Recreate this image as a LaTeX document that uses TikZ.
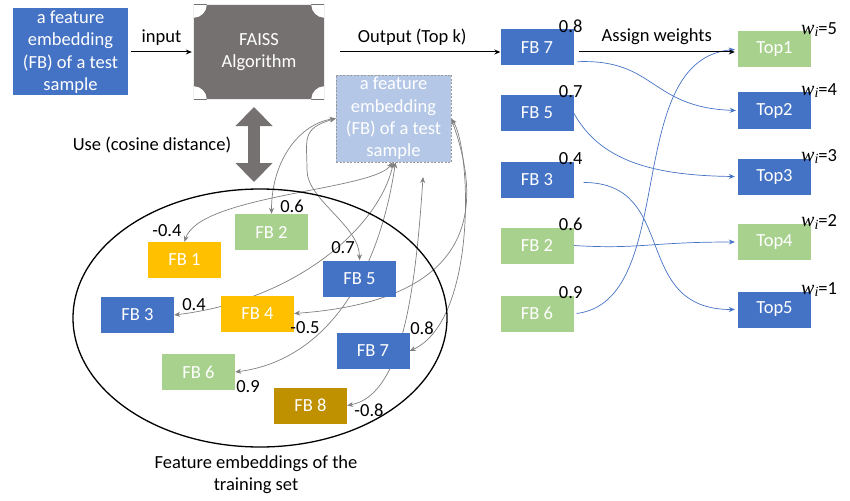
\documentclass[tikz,border=0pt]{standalone}
\usepackage{fontspec}
\setmainfont{Carlito}
\newfontfamily\wfont{Liberation Serif}
\usetikzlibrary{arrows.meta,shapes.geometric,backgrounds}
\definecolor{fbblue}{HTML}{4472C4}
\definecolor{fbgreen}{HTML}{A9D18E}
\definecolor{fborange}{HTML}{FFC000}
\definecolor{fbgold}{HTML}{BF9000}
\definecolor{faissgray}{HTML}{767171}
\definecolor{querylight}{HTML}{B4C7E7}
\definecolor{linkgray}{HTML}{7F7F7F}
\newcommand{\wlabel}[1]{{\wfont\itshape\fontsize{20}{20}\selectfont w}\raisebox{-0.3ex}{\wfont\itshape\fontsize{14}{14}\selectfont i}=#1}
\begin{document}
\begin{tikzpicture}[x=1pt, y=-1pt, font=\fontsize{18.5}{22.3}\selectfont,
        >={Stealth[length=6pt,width=5pt]},
        fb/.style={minimum width=73, minimum height=36, inner sep=0pt, text=white},
        bigbox/.style={minimum width=115, minimum height=87, inner sep=0pt, text=white, align=center},
        score/.style={anchor=base, inner sep=0pt},
        simlink/.style={<->, linkgray, line width=0.7pt},
        ranklink/.style={->, fbblue, line width=0.7pt}]
        \useasboundingbox (0,0) rectangle (850,500);

        % query side
        \node[bigbox, fill=fbblue] (tsample) at (70.5,52) {a feature\\embedding\\(FB) of a test\\sample};
        \node[bigbox, minimum width=130, minimum height=94] (faiss) at (259,52) {FAISS\\Algorithm};
        \node[bigbox, fill=querylight, draw=linkgray!80, dash pattern=on 2pt off 1.5pt, thin] (query) at (393.5,118.5) {a feature\\embedding\\(FB) of a test\\sample};

        \draw[->, line width=1pt] ([xshift=3]tsample.east) -- ([xshift=-2]faiss.west) node[midway, above, yshift=3] (inputlbl) {input};

        % training set
        \node[draw, ellipse, line width=1.3pt, minimum width=374, minimum height=258] (trainset) at (260,318) {};
        \node[align=center] (trainlbl) at (256,475) {Feature embeddings of the\\training set};
        \foreach \k/\x/\y/\c in {1/184.5/260/fborange, 2/271.5/232/fbgreen, 3/137.5/315/fbblue, 4/257.5/313.5/fborange,
                5/359.5/278.5/fbblue, 6/198.5/372/fbgreen, 7/373/351/fbblue, 8/310.5/405.5/fbgold} {
            \node[fb, fill=\c] (tr\k) at (\x,\y) {FB \k};
        }
        \foreach \k/\x/\y/\v in {1/167/236/-0.4, 2/292/212/0.6, 3/194/310/0.4, 4/305/333/-0.5,
                5/343/253/0.7, 6/248/392/0.9, 7/422/334/0.8, 8/369/416/-0.8} {
            \node[score] (trv\k) at (\x,\y) {\v};
        }

        \coordinate (usetop) at (254,107);
        \coordinate (usebot) at (254,182);
        \draw[faissgray, line width=12pt, {Triangle[width=36pt,length=19pt]}-{Triangle[width=36pt,length=19pt]}] (usetop) -- (usebot);
        \node (uselbl) at (152,145) {Use (cosine distance)};

        % ranked output
        \foreach \k/\y/\c/\v in {7/47.5/fbblue/0.8, 5/113/fbblue/0.7, 3/179.5/fbblue/0.4, 2/245.5/fbgreen/0.6, 6/313.5/fbgreen/0.9} {
            \node[fb, fill=\c] (res\k) at (537,\y) {FB \k};
            \node[score] (resv\k) at ([xshift=-3,yshift=-3]res\k.north east) {\v};
        }
        \foreach \k/\y/\c/\w in {1/49.5/fbgreen/5, 2/110.5/fbblue/4, 3/176.5/fbblue/3, 4/242/fbgreen/2, 5/309.5/fbblue/1} {
            \node[fb, fill=\c] (top\k) at (774.5,\y) {Top\k};
            \node[score, anchor=base east] (weight\k) at ([xshift=26,yshift=-3]top\k.north east) {\wlabel{\w}};
        }

        \draw[->, line width=1pt] ([xshift=16]faiss.east) -- (faiss.east -| res7.west) node[pos=0.45, above, yshift=3] (outlbl) {Output (Top k)};
        \draw[->, line width=1pt] ([xshift=5]res7.east |- faiss.east) -- ([xshift=-3]top1.west |- faiss.east) node[midway, above, yshift=3] (assignlbl) {Assign weights};

        \begin{scope}[on background layer]
            \begin{scope}
                \clip (faiss.north west) rectangle (faiss.south east);
                \fill[faissgray, even odd rule] (faiss.north west) rectangle (faiss.south east)
                    (faiss.north west) circle (13) (faiss.north east) circle (13)
                    (faiss.south west) circle (13) (faiss.south east) circle (13);
            \end{scope}

            % similarity links
            \draw[simlink] (query.west) .. controls +(-35,5) and +(0,-55) .. (tr2.north);
            \draw[simlink] (query.west) .. controls +(-35,10) and +(0,-30) .. (307,170) .. controls +(0,30) and +(0,-35) .. (tr5.north);
            \draw[simlink] ([xshift=-1]query.south) .. controls +(-18,28) and +(15,-47) .. (tr1.north);
            \draw[simlink] (query.south) .. controls +(-14,64) and +(123,-15) .. (tr3.east);
            \draw[simlink] ([xshift=2]query.south) .. controls +(-16,110) and +(93,-12) .. (tr6.east);
            \coordinate (freeend) at (423,177);
            \draw[simlink] (freeend) .. controls +(-8,123) and +(53,-10) .. (tr8.east);
            \draw[simlink] (query.east) .. controls +(20,30) and +(68,-31) .. (tr7.east);
            \draw[simlink] (query.east) .. controls +(29,81) and +(191,-14) .. (tr4.east);

            % rank links
            \draw[ranklink] ([xshift=4,yshift=4]res7.south east) .. controls +(78,-3) and +(-86,-3) .. ([xshift=-2]top2.west);
            \draw[ranklink] (res5.east) .. controls +(26,47) and +(-84,-1) .. ([xshift=-3]top3.west);
            \draw[ranklink] ([xshift=10,yshift=-3]res3.east) .. controls +(96,0) and +(-105,0) .. ([xshift=-3]top5.west);
            \draw[ranklink] (res2.east) .. controls +(66,4) and +(-86,0) .. ([xshift=-3]top4.west);
            \draw[ranklink] ([xshift=3]res6.east) .. controls +(103,-13) and +(-114,10) .. ([xshift=-3]top1.west);
        \end{scope}
    \end{tikzpicture}
\end{document}
